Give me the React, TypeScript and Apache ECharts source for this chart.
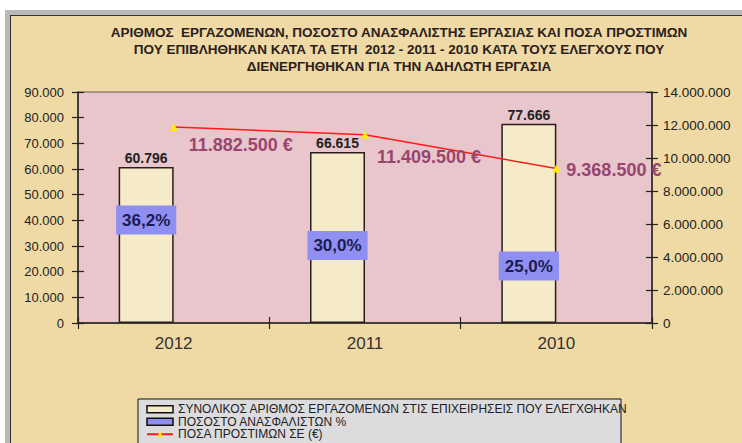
import React, { useEffect, useRef } from "react";
import * as echarts from "echarts";

const years = ["2012", "2011", "2010"];
const employees = [60796, 66615, 77666];
const uninsuredPct = [36.2, 30.0, 25.0];
const fines = [11882500, 11409500, 9368500];

const leftMax = 90000;
const leftInterval = 10000;
const rightMax = 14000000;
const rightInterval = 2000000;

const seriesNames = [
  "ΣΥΝΟΛΙΚΟΣ ΑΡΙΘΜΟΣ ΕΡΓΑΖΟΜΕΝΩΝ ΣΤΙΣ ΕΠΙΧΕΙΡΗΣΕΙΣ ΠΟΥ ΕΛΕΓΧΘΗΚΑΝ",
  "ΠΟΣΟΣΤΟ ΑΝΑΣΦΑΛΙΣΤΩΝ %",
  "ΠΟΣΑ ΠΡΟΣΤΙΜΩΝ ΣΕ (€)",
];

const titleLines = [
  "ΑΡΙΘΜΟΣ  ΕΡΓΑΖΟΜΕΝΩΝ, ΠΟΣΟΣΤΟ ΑΝΑΣΦΑΛΙΣΤΗΣ ΕΡΓΑΣΙΑΣ ΚΑΙ ΠΟΣΑ ΠΡΟΣΤΙΜΩΝ",
  "ΠΟΥ ΕΠΙΒΛΗΘΗΚΑΝ ΚΑΤΑ ΤΑ ΕΤΗ  2012 - 2011 - 2010 ΚΑΤΑ ΤΟΥΣ ΕΛΕΓΧΟΥΣ ΠΟΥ",
  "ΔΙΕΝΕΡΓΗΘΗΚΑΝ ΓΙΑ ΤΗΝ ΑΔΗΛΩΤΗ ΕΡΓΑΣΙΑ",
];

// label placement styling for the fine labels (pixel offsets)
const fineLabelOffsets = [
  [6, 18],
  [3, 22],
  [1, 2],
];

const fmt = (n: number) =>
  String(Math.round(n)).replace(/\B(?=(\d{3})+(?!\d))/g, ".");
const pctFmt = (p: number) => p.toFixed(1).replace(".", ",") + "%";

const FONT = "'Liberation Sans', Arial, sans-serif";

export default function App() {
  const ref = useRef<HTMLDivElement>(null);

  useEffect(() => {
    document.body.style.margin = "0";
    if (!ref.current) return;
    const chart = echarts.init(ref.current, undefined, { renderer: "svg" });

    const axisLine = { show: true, lineStyle: { color: "#222", width: 1.5 } };
    const tickStyle = { color: "#222", width: 1.2 };

    const option: any = {
      animation: false,
      backgroundColor: "transparent",
      textStyle: { fontFamily: FONT },
      grid: {
        left: 78,
        right: 90,
        top: 92,
        bottom: 120,
        show: true,
        backgroundColor: "#e8c6cc",
        borderColor: "#6b5a4a",
        borderWidth: 1,
      },
      graphic: [
        {
          type: "text",
          x: 399,
          y: 24,
          style: {
            text: titleLines.join("\n"),
            align: "center",
            fontFamily: FONT,
            fontSize: 13.5,
            fontWeight: "bold",
            lineHeight: 17,
            fill: "#2a2020",
          },
        },
        {
          type: "rect",
          shape: { x: 138, y: 399, width: 483, height: 50 },
          style: { fill: "#dcdcdf", stroke: "#111", lineWidth: 1 },
        },
      ],
      legend: {
        orient: "vertical",
        left: 146,
        top: 403,
        itemGap: 0,
        itemWidth: 26,
        itemHeight: 7,
        padding: 0,
        z: 10,
        textStyle: { fontSize: 12, color: "#222", fontFamily: FONT, lineHeight: 12.5 },
        data: [
          {
            name: seriesNames[0],
            icon: "rect",
            itemStyle: { color: "#f6ebc8", borderColor: "#111", borderWidth: 1.5 },
          },
          {
            name: seriesNames[1],
            icon: "rect",
            itemStyle: { color: "#8f8ff2", borderColor: "#111", borderWidth: 1.5 },
          },
          { name: seriesNames[2] },
        ],
      },
      xAxis: [
        {
          type: "category",
          data: years,
          axisLine,
          axisTick: { show: true, length: 6, lineStyle: tickStyle },
          axisLabel: { fontSize: 17, color: "#333", margin: 12, fontFamily: FONT },
          splitLine: { show: false },
        },
        {
          type: "category",
          data: years,
          position: "bottom",
          axisLine: { show: false },
          axisTick: { show: true, inside: true, length: 6, lineStyle: tickStyle },
          axisLabel: { show: false },
          splitLine: { show: false },
        },
      ],
      yAxis: [
        {
          type: "value",
          position: "left",
          min: 0,
          max: leftMax,
          interval: leftInterval,
          axisLine,
          axisTick: { show: true, length: 6, lineStyle: tickStyle },
          axisLabel: { formatter: fmt, fontSize: 13, color: "#222", margin: 14, fontFamily: FONT },
          splitLine: { show: false },
        },
        {
          type: "value",
          position: "right",
          min: 0,
          max: rightMax,
          interval: rightInterval,
          axisLine,
          axisTick: { show: true, length: 6, lineStyle: tickStyle },
          axisLabel: { formatter: fmt, fontSize: 13.5, color: "#222", margin: 11, fontFamily: FONT },
          splitLine: { show: false },
        },
        {
          type: "value",
          show: false,
          min: 6.34,
          max: 62.7,
          splitLine: { show: false },
        },
        {
          type: "value",
          position: "left",
          min: 0,
          max: leftMax,
          interval: leftInterval,
          axisLine: { show: false },
          axisTick: { show: true, inside: true, length: 6, lineStyle: tickStyle },
          axisLabel: { show: false },
          splitLine: { show: false },
        },
        {
          type: "value",
          position: "right",
          min: 0,
          max: rightMax,
          interval: rightInterval,
          axisLine: { show: false },
          axisTick: { show: true, inside: true, length: 6, lineStyle: tickStyle },
          axisLabel: { show: false },
          splitLine: { show: false },
        },
      ],
      series: [
        {
          name: seriesNames[0],
          type: "bar",
          data: employees,
          barWidth: 55,
          barGap: "0%",
          itemStyle: { color: "#f6ebc8", borderColor: "#2b1d1d", borderWidth: 1.5 },
          label: {
            show: true,
            position: "top",
            distance: 2,
            formatter: (p: any) => fmt(p.value),
            fontSize: 14,
            fontWeight: "bold",
            color: "#222",
            fontFamily: FONT,
          },
        },
        {
          name: seriesNames[1],
          type: "bar",
          yAxisIndex: 2,
          data: uninsuredPct,
          barWidth: 55,
          barGap: "0%",
          itemStyle: { color: "rgba(0,0,0,0)" },
          label: {
            show: true,
            position: "insideTop",
            distance: 5,
            offset: [-55, 0],
            formatter: (p: any) => pctFmt(p.value),
            backgroundColor: "#8f8ff2",
            padding: [6, 6],
            fontSize: 17,
            fontWeight: "bold",
            color: "#1c1c50",
            fontFamily: FONT,
          },
        },
        {
          name: seriesNames[2],
          type: "line",
          yAxisIndex: 1,
          data: fines.map((v, i) => ({
            value: v,
            label: { offset: fineLabelOffsets[i] },
          })),
          symbol: "triangle",
          symbolSize: 8,
          itemStyle: { color: "#ffee00" },
          lineStyle: { color: "#ff1a1a", width: 1.5 },
          label: {
            show: true,
            position: "right",
            formatter: (p: any) => fmt(p.value) + " €",
            fontSize: 18,
            fontWeight: "bold",
            color: "#9a4570",
            fontFamily: FONT,
          },
          z: 5,
        },
      ],
    };

    chart.setOption(option);
    return () => chart.dispose();
  }, []);

  return (
    <div style={{ position: "relative", width: 742, height: 443, background: "#fff", overflow: "hidden" }}>
      <div
        style={{
          position: "absolute",
          left: 5,
          top: 10,
          width: 737,
          height: 433,
          background: "#b9b9b9",
        }}
      >
        <div
          style={{
            position: "absolute",
            left: 5,
            top: 5,
            width: 732,
            height: 428,
            background: "#efd9a4",
            borderLeft: "1px solid #333",
            borderTop: "1px solid #333",
            boxSizing: "border-box",
          }}
        />
      </div>
      <div ref={ref} style={{ position: "absolute", left: 0, top: 0, width: 742, height: 443 }} />
    </div>
  );
}
